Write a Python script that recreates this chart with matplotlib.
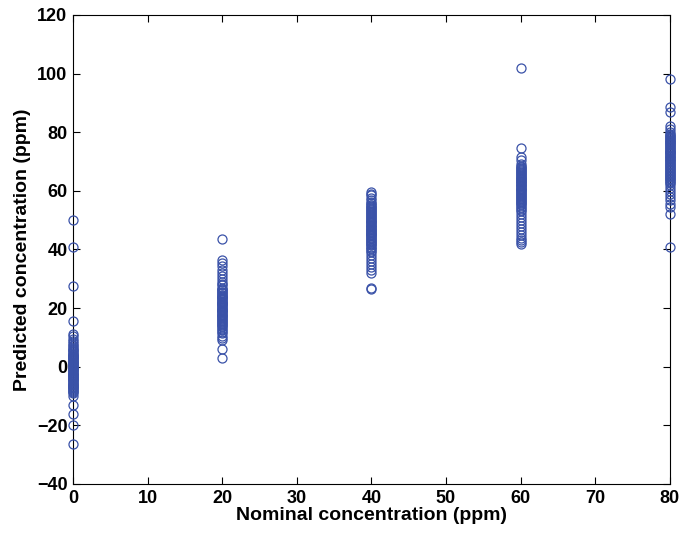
import matplotlib
matplotlib.use("Agg")
import matplotlib.pyplot as plt
import numpy as np

plt.rcParams['font.family'] = ['Liberation Sans', 'DejaVu Sans']

# Predicted values per nominal concentration (ppm); dense cores read as solid bands
pred_0 = [50, 41, 27.5, 15.5, 11, 10.5, 9.5, 8, 7, 6, 5.5, 5, 4.5, 4, 3.5, 3, 2.5, 2, 1.5, 1,
          0.5, 0, -0.5, -1, -1.5, -2, -2.5, -3, -3.5, -4, -4.5, -5, -5.5, -6, -6.5, -7, -7.5,
          -8, -9, -10, -13, -16, -20, -26.5, 1.2, -0.8, -2.7, -4.3, 0.3, 2.8, -6.2, 3.7,
          4.2, 3.2, 2.2, 1.7, 0.8, -0.2, -1.2, -2.2, -3.2, -3.8, -4.8, -5.8, -6.8, -7.2,
          5.8, 6.4, 7.5, 8.6, -8.4, -8.7]
pred_20 = [43.5, 36.5, 35.5, 33, 31, 29, 27, 26.5, 26, 25.5, 25, 24.5, 24, 23.5, 23, 22.5,
           22, 21.5, 21, 20.5, 20, 19.5, 19, 18.5, 18, 17.5, 17, 16.5, 16, 15.5, 15, 14.5,
           14, 13, 12, 10.5, 9, 6, 3, 21.3, 19.2, 23.8, 17.7, 26.2, 25.2, 24.2, 23.2, 22.2,
           21.7, 20.7, 19.7, 18.7, 17.2, 16.2, 15.2, 14.2, 13.5, 27.8, 28.3, 30, 32, 34.5,
           11.5, 12.5, 9.8]
pred_40 = [59.5, 58.5, 57, 56, 55, 54.5, 54, 53.5, 53, 52.5, 52, 51.5, 51, 50.5, 50, 49.5,
           49, 48.5, 48, 47.5, 47, 46.5, 46, 45.5, 45, 44.5, 44, 43.5, 43, 42.5, 42, 41.5,
           41, 40, 39, 38, 36, 34, 32, 27, 26.5, 47.2, 49.8, 45.3, 54.8, 53.8, 52.8, 51.8,
           50.8, 49.2, 48.2, 46.8, 45.8, 44.8, 43.8, 42.8, 41.8, 40.5, 39.5, 58.8, 57.5,
           55.8, 37, 35, 33]
pred_60 = [102, 74.5, 70.5, 69, 68, 67.5, 67, 66.5, 66, 65.5, 65, 64.5, 64, 63.5, 63, 62.5,
           62, 61.5, 61, 60.5, 60, 59.5, 59, 58.5, 58, 57.5, 57, 56.5, 56, 54, 53, 52, 50,
           48, 46, 44, 42.5, 42, 62.2, 64.8, 60.7, 67.8, 66.8, 65.8, 64.2, 63.2, 61.8, 60.2,
           59.2, 58.2, 57.2, 56.2, 55.5, 55, 54.5, 53.5, 51, 49, 47, 45, 43.2, 71.5, 68.5]
pred_80 = [98, 88.5, 87, 81, 80, 79, 78.5, 78, 77.5, 77, 76.5, 76, 75.5, 75, 74.5, 74, 73.5,
           73, 72.5, 72, 71.5, 71, 70.5, 70, 69.5, 69, 68.5, 68, 67.5, 67, 66.5, 66, 65.5,
           65, 64.5, 64, 63, 62, 60, 58, 57, 54.5, 52, 41, 71.8, 73.2, 78.8, 77.8, 76.8,
           75.8, 74.8, 73.8, 72.8, 71.2, 70.2, 69.2, 68.2, 67.2, 66.2, 65.2, 64.2, 63.5,
           62.5, 61, 59, 55.5, 82, 79.5]

nominal = [0, 20, 40, 60, 80]
predicted = [pred_0, pred_20, pred_40, pred_60, pred_80]

fig = plt.figure(figsize=(6.82, 5.33), dpi=100)
ax = fig.add_axes([0.107, 0.092, 0.875, 0.88])

for nom, vals in zip(nominal, predicted):
    ax.plot([nom] * len(vals), vals, 'o', mfc='none', mec='#3a52a8',
            ms=6.5, mew=0.9, linestyle='none', clip_on=False, zorder=3)

ax.set_xlim(0, 80)
ax.set_ylim(-40, 120)
ax.set_xticks(np.arange(0, 81, 10))
ax.set_yticks(np.arange(-40, 121, 20))
ax.tick_params(direction='in', top=True, right=True, length=5, width=0.8,
               labelsize=13, pad=4)
for lbl in ax.get_xticklabels() + ax.get_yticklabels():
    lbl.set_fontweight('bold')
for s in ax.spines.values():
    s.set_linewidth(0.8)

ax.set_xlabel("Nominal concentration (ppm)", fontsize=14, fontweight='bold', labelpad=0)
ax.set_ylabel("Predicted concentration (ppm)", fontsize=14, fontweight='bold', labelpad=4)

fig.savefig("out.png", dpi=100, facecolor="white")
